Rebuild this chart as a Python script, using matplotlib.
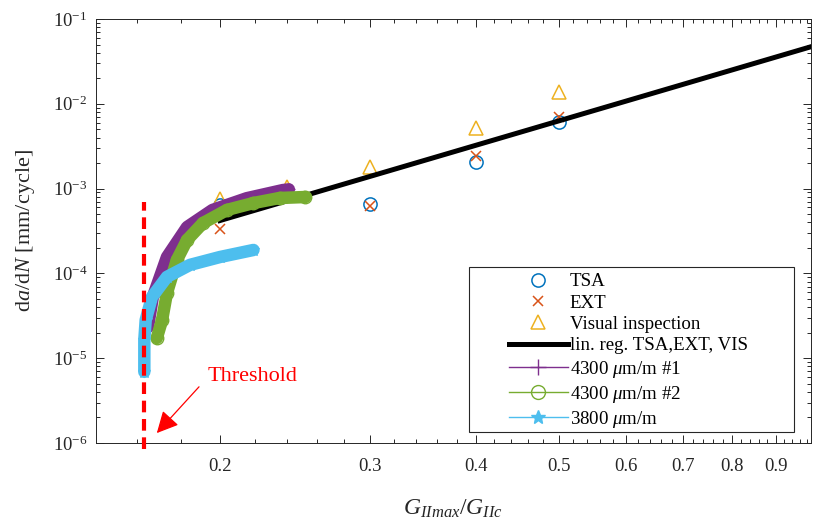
import numpy as np
import matplotlib
matplotlib.use('Agg')
import matplotlib.pyplot as plt
import matplotlib.lines as mlines
from matplotlib.patches import Rectangle
from matplotlib.ticker import FixedLocator, NullFormatter, LogLocator

plt.rcParams['font.family'] = ['Liberation Serif', 'DejaVu Serif']
plt.rcParams['mathtext.fontset'] = 'custom'
plt.rcParams['mathtext.rm'] = 'Liberation Serif'
plt.rcParams['mathtext.it'] = 'Liberation Serif:italic'

# discrete measurements
g_ratio = [0.2, 0.3, 0.4, 0.5]
tsa = [6.4e-4, 6.5e-4, 2.07e-3, 6.15e-3]
ext = [3.3e-4, 6.3e-4, 2.42e-3, 6.9e-3]
vis_x = [0.2, 0.24, 0.3, 0.4, 0.5]
vis = [7.5e-4, 1.05e-3, 1.8e-3, 5.2e-3, 1.39e-2]

# linear regression (log-log) end points
reg_x = [0.2, 0.99]
reg_y = [4.2e-4, 4.71e-2]

# strain gauge curves
s1_x = [0.1646, 0.1668, 0.1733, 0.183, 0.196, 0.215, 0.237, 0.241]
s1_y = [2.33e-5, 5.27e-5, 1.56e-4, 3.52e-4, 5.6e-4, 7.7e-4, 9.6e-4, 9.8e-4]
s2_x = [0.1686, 0.171, 0.1733, 0.178, 0.183, 0.191, 0.2038, 0.219, 0.235, 0.252]
s2_y = [1.73e-5, 2.8e-5, 5.9e-5, 1.44e-4, 2.48e-4, 3.92e-4, 5.6e-4, 6.76e-4, 7.75e-4, 7.96e-4]
s3_x = [0.163, 0.163, 0.1636, 0.1664, 0.1733, 0.1844, 0.2, 0.219]
s3_y = [6.9e-6, 1.64e-5, 2.82e-5, 5.27e-5, 9.1e-5, 1.26e-4, 1.56e-4, 1.89e-4]

threshold_x = 0.163
threshold_y = [8.5e-7, 7.0e-4]

c_blue, c_red, c_yel = '#0072BD', '#D95319', '#EDB120'
c_pur, c_grn, c_cya = '#7E2F8E', '#77AC30', '#4DBEEE'
dark = '#262626'

fig = plt.figure(figsize=(8.13, 5.19), dpi=100)
ax = fig.add_axes([0.1177, 0.1464, 0.8798, 0.8170])
ax.set_xscale('log')
ax.set_yscale('log')

ax.plot(g_ratio, tsa, 'o', mfc='none', mec=c_blue, ms=9.5, mew=1.1, zorder=2)
ax.plot(g_ratio, ext, 'x', color=c_red, ms=7, mew=1.1, zorder=2)
ax.plot(vis_x, vis, '^', mfc='none', mec=c_yel, ms=10, mew=1.1, zorder=2)
ax.plot(reg_x, reg_y, '-', color='k', lw=3.6, zorder=2.5)

ax.plot(s1_x, s1_y, '-+', color=c_pur, lw=9, ms=9, solid_capstyle='round', zorder=3)
ax.plot(s2_x, s2_y, '-o', color=c_grn, lw=9, ms=9, mfc='none',
        solid_capstyle='round', zorder=3.1)
ax.plot(s3_x, s3_y, '-*', color=c_cya, lw=9, ms=9, solid_capstyle='round', zorder=3.2)

ax.plot([threshold_x, threshold_x], threshold_y, color='#FF0000', lw=3,
        dashes=(2.8, 1.6), clip_on=False, zorder=4)
ax.text(0.1936, 5.38e-6, 'Threshold', color='#FF0000', fontsize=16, va='baseline')
ax.annotate('', xy=(0.1686, 1.31e-6), xytext=(0.189, 4.6e-6),
            arrowprops=dict(arrowstyle='-|>,head_length=0.6,head_width=0.3',
                            color='#FF0000', lw=0.9,
                            mutation_scale=22, shrinkA=0, shrinkB=0))

ax.set_xlim(0.1429, 0.99)
ax.set_ylim(1e-6, 1e-1)

majors = [0.2, 0.3, 0.4, 0.5, 0.6, 0.7, 0.8, 0.9]
ax.xaxis.set_major_locator(FixedLocator(majors))
ax.set_xticklabels([str(m) for m in majors])
minors = [round(v, 2) for v in np.arange(0.16, 0.99, 0.02)]
minors = [v for v in minors if not any(abs(v - m) < 1e-6 for m in majors)]
ax.xaxis.set_minor_locator(FixedLocator(minors))
ax.xaxis.set_minor_formatter(NullFormatter())

ax.yaxis.set_major_locator(FixedLocator([1e-6, 1e-5, 1e-4, 1e-3, 1e-2, 1e-1]))
ax.set_yticklabels(['$10^{-%d}$' % k for k in [6, 5, 4, 3, 2, 1]])
ax.yaxis.set_minor_locator(LogLocator(base=10, subs=np.arange(2, 10)))
ax.yaxis.set_minor_formatter(NullFormatter())

ax.tick_params(which='both', direction='in', top=True, right=True,
               colors=dark, labelsize=13.5, width=0.7)
ax.tick_params(which='major', length=6)
ax.tick_params(which='minor', length=3)
ax.tick_params(axis='x', pad=11)
ax.tick_params(axis='y', pad=6)
for s in ax.spines.values():
    s.set_color(dark)
    s.set_linewidth(0.7)

ax.set_xlabel('$G_{IImax}/G_{IIc}$', fontsize=17, color=dark, labelpad=16)
ax.set_ylabel('d$a$/d$N$ [mm/cycle]', fontsize=16, color=dark, labelpad=11)

# legend frame drawn separately so the handles sit further in
ax.add_patch(Rectangle((0.5769, 0.1676), 0.3998, 0.318, transform=fig.transFigure,
                       facecolor='white', edgecolor=dark, lw=0.8, zorder=4.9,
                       clip_on=False))
handles = [
    mlines.Line2D([], [], linestyle='None', marker='o', mfc='none', mec=c_blue,
                  ms=9.5, mew=1.1, label='TSA'),
    mlines.Line2D([], [], linestyle='None', marker='x', color=c_red, ms=7,
                  mew=1.1, label='EXT'),
    mlines.Line2D([], [], linestyle='None', marker='^', mfc='none', mec=c_yel,
                  ms=10, mew=1.1, label='Visual inspection'),
    mlines.Line2D([], [], color='k', lw=3.6, label='lin. reg. TSA,EXT, VIS'),
    mlines.Line2D([], [], color=c_pur, lw=1, marker='+', ms=11,
                  label=r'4300 $\mu$m/m #1'),
    mlines.Line2D([], [], color=c_grn, lw=1, marker='o', mfc='none', ms=10,
                  label=r'4300 $\mu$m/m #2'),
    mlines.Line2D([], [], color=c_cya, lw=1, marker='*', ms=10,
                  label=r'3800 $\mu$m/m'),
]
leg = ax.legend(handles=handles, loc='upper left',
                bbox_to_anchor=(509 / 813, 1 - 273 / 519),
                bbox_transform=fig.transFigure, frameon=False, fontsize=13.6,
                borderpad=0, borderaxespad=0, handlelength=3.1,
                handletextpad=0.12, labelspacing=0.22, numpoints=1)
leg.set_zorder(5)

fig.savefig('out.png', dpi=100)
